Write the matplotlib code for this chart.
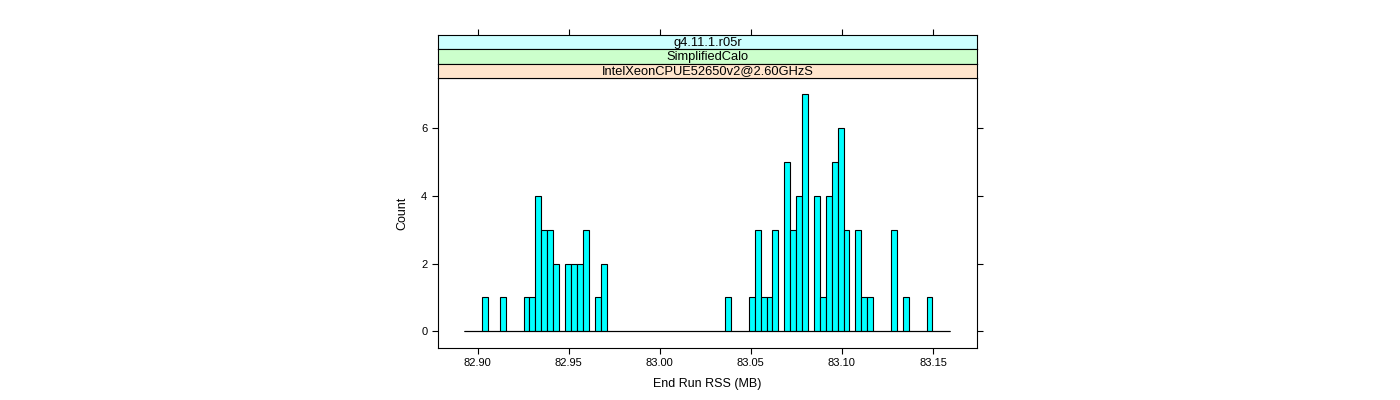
import numpy as np
import matplotlib
matplotlib.use("Agg")
import matplotlib.pyplot as plt

plt.rcParams['font.family'] = ['Liberation Sans', 'DejaVu Sans']

# histogram of End Run RSS (MB), breaks shared across panels
bin_start = 82.89264
bin_width = 0.0032544
counts = [0, 0, 0, 1, 0, 0, 1, 0, 0, 0,
          1, 1, 4, 3, 3, 2, 0, 2, 2, 2,
          3, 0, 1, 2, 0, 0, 0, 0, 0, 0,
          0, 0, 0, 0, 0, 0, 0, 0, 0, 0,
          0, 0, 0, 0, 1, 0, 0, 0, 1, 3,
          1, 1, 3, 0, 5, 3, 4, 7, 0, 4,
          1, 4, 5, 6, 3, 0, 3, 1, 1, 0,
          0, 0, 3, 0, 1, 0, 0, 0, 1, 0,
          0, 0]
strip_labels = ["g4.11.1.r05r", "SimplifiedCalo", "IntelXeonCPUE52650v2@2.60GHzS"]
strip_colors = ["#ccffff", "#ccffcc", "#ffe5cc"]
x_ticks = [82.90, 82.95, 83.00, 83.05, 83.10, 83.15]
y_ticks = [0, 2, 4, 6]

W, H = 1400, 400
fig = plt.figure(figsize=(14, 4), dpi=100)

left, right = 437.5, 977.3
top, bottom = 78.0, 347.7
strip_top = 34.7

ax = fig.add_axes([left / W, 1 - bottom / H, (right - left) / W, (bottom - top) / H])
edges = bin_start + bin_width * np.arange(len(counts))
ax.bar(edges, counts, width=bin_width, align='edge', color='#00ffff',
       edgecolor='black', linewidth=0.8)
ax.hlines(0, edges[0], edges[-1] + bin_width, color='black', linewidth=0.8)

xlim = (82.87792, 83.17436)
ax.set_xlim(*xlim)
ax.set_ylim(-0.485, 7.487)
ax.set_xticks(x_ticks)
ax.set_xticklabels([f"{v:.2f}" for v in x_ticks])
ax.set_yticks(y_ticks)
ax.tick_params(axis='both', direction='out', length=4.3, width=0.8, labelsize=8,
               right=True, top=False, pad=3)
ax.set_xlabel("End Run RSS (MB)", fontsize=9, labelpad=7)
ax.set_ylabel("Count", fontsize=9, labelpad=9)
for s in ax.spines.values():
    s.set_linewidth(0.8)

sh = (top - strip_top) / 3
for i, (lab, col) in enumerate(zip(strip_labels, strip_colors)):
    y0 = strip_top + i * sh
    sax = fig.add_axes([left / W, 1 - (y0 + sh) / H, (right - left) / W, sh / H])
    sax.set_facecolor(col)
    sax.set_xlim(*xlim)
    sax.set_yticks([])
    if i == 0:
        sax.set_xticks(x_ticks)
        sax.tick_params(axis='x', direction='out', length=4.3, width=0.8,
                        top=True, bottom=False, labeltop=False, labelbottom=False)
    else:
        sax.set_xticks([])
    for s in sax.spines.values():
        s.set_linewidth(0.8)
    sax.text(0.5, 0.45, lab, transform=sax.transAxes, ha='center', va='center',
             fontsize=9.3)

fig.savefig("out.png", dpi=100)
